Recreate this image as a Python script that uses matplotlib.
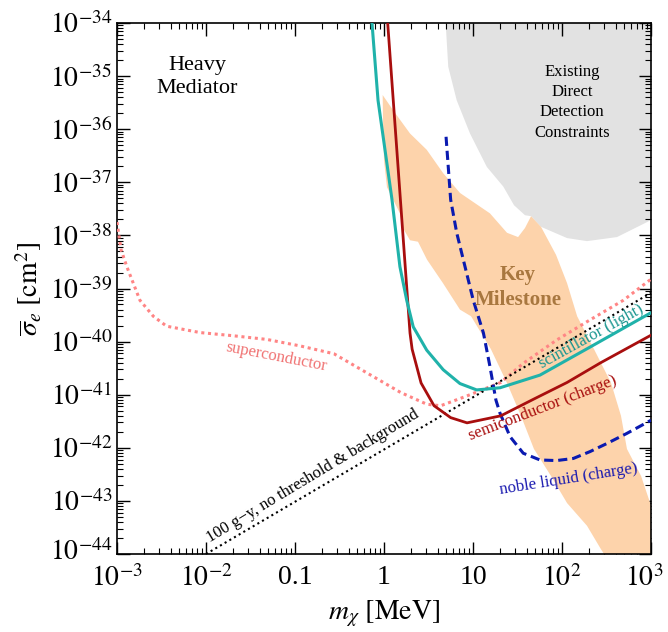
import numpy as np
import matplotlib
matplotlib.use("Agg")
import matplotlib.pyplot as plt
import matplotlib.transforms as mtransforms
from matplotlib.ticker import LogLocator, FixedLocator, FixedFormatter, NullFormatter

plt.rcParams['font.family'] = ['Liberation Serif', 'DejaVu Serif']
plt.rcParams['mathtext.fontset'] = 'stix'

# --- curves (m in MeV, sigma in cm^2) ---
scint_m = [0.733, 0.857, 1.23, 1.51, 1.80, 2.13, 3.02, 4.63, 7.14, 11.0, 20.1,
           56.6, 207, 1000]
scint_s = [1e-34, 3.5e-36, 4.7e-38, 2.57e-39, 6.0e-40, 1.9e-40, 6.9e-41,
           2.95e-41, 1.62e-41, 1.23e-41, 1.35e-41, 2.34e-41, 7.9e-41, 3.5e-40]

semi_m = [1.10, 1.96, 2.07, 2.61, 3.65, 5.61, 8.57, 20.5, 48.4, 114, 272, 1000]
semi_s = [1e-34, 1.45e-40, 7.2e-41, 1.66e-41, 6.2e-42, 3.7e-42, 2.95e-42,
          4.0e-42, 8.3e-42, 1.7e-41, 4.0e-41, 1.32e-40]

noble_m = [4.98, 5.61, 6.56, 10.07, 13.1, 15.5, 18.1, 20.1, 26.1, 36.7, 56.6,
           87.1, 134, 207, 318, 533, 1000]
noble_s = [7.2e-37, 4.7e-38, 1.12e-38, 6.0e-40, 1.45e-40, 3.4e-41, 7.9e-42,
           4.5e-42, 1.62e-42, 7.9e-43, 5.9e-43, 5.75e-43, 6.3e-43, 8.5e-43,
           1.2e-42, 1.86e-42, 3.3e-42]

super_m = [0.001, 0.00111, 0.00129, 0.00181, 0.00256, 0.00361, 0.00857, 0.0201,
           0.0481, 0.114, 0.274, 0.644, 1.54, 3.04, 4.34, 8.57, 20.5, 36.7,
           87.1, 207, 489, 1000]
super_s = [1.78e-38, 5.4e-39, 2.57e-39, 6.0e-40, 3.0e-40, 1.95e-40, 1.48e-40,
           1.29e-40, 1.1e-40, 8.3e-41, 5.9e-41, 2.57e-41, 1.1e-41, 6.6e-42,
           6.2e-42, 9.5e-42, 1.7e-41, 3.9e-41, 1.07e-40, 2.57e-40, 6.0e-40, 1.5e-39]

floor_m = [0.01, 1000]
floor_s = [1e-44, 8.3e-40]

# key milestone band (closed outline)
band_m = [0.966, 1.26, 1.96, 3.02, 4.63, 7.14, 15.5, 24.1, 32.1, 38.4, 44.9,
          58.1, 85.7, 114, 148, 229, 356, 460, 537, 773, 951, 1000, 1000,
          297, 274, 191, 114, 75.2, 48.4, 34.6, 24.1, 15.9, 9.51, 7.14, 4.6,
          3.04, 2.41, 1.96, 1.63, 1.51, 1.08, 1.0, 0.975]
band_s = [4.4e-36, 2.3e-36, 8.3e-37, 4.1e-37, 1.48e-37, 6.3e-38, 2.6e-38,
          1.12e-38, 9.3e-39, 1.38e-38, 2.3e-38, 1.45e-38, 4.3e-39, 1.26e-39,
          3.0e-40, 7.2e-41, 1.66e-41, 4.0e-42, 9.5e-43, 2.95e-43, 1.05e-43,
          8.3e-44, 1e-44, 1e-44, 1.23e-44, 3.4e-44, 9.1e-44, 2.95e-43, 9.5e-43,
          4.0e-42, 1.66e-41, 7.2e-41, 3.0e-40, 4.0e-40, 1.26e-39, 3.5e-39,
          7.6e-39, 8.1e-39, 1.38e-38, 2.6e-38, 8.1e-38, 2.6e-37, 1.48e-36]

# existing direct detection constraints
excl_m = [4.93, 4.93, 5.27, 6.56, 9.25, 14.3, 21.9, 28.9, 38.4, 44.9, 58.1,
          114, 191, 415, 902, 1000, 1000]
excl_s = [1.3e-34, 1e-34, 1.5e-35, 3.5e-36, 8.3e-37, 1.95e-37, 8.3e-38, 3.7e-38,
          2.4e-38, 2.3e-38, 1.45e-38, 8.9e-39, 7.8e-39, 9.3e-39, 1.78e-38,
          1.95e-38, 1.3e-34]

xtick_vals = [1e-3, 1e-2, 0.1, 1, 10, 100, 1000]
xtick_text = [r"$10^{-3}$", r"$10^{-2}$", "0.1", "1", "10", r"$10^{2}$", r"$10^{3}$"]
ytick_vals = [10.0 ** e for e in range(-44, -33)]
ytick_text = [r"$10^{%d}$" % e for e in range(-44, -33)]

fig = plt.figure(figsize=(6.68, 6.32), dpi=100)
ax = fig.add_axes([117 / 668, 1 - 554 / 632, 534 / 668, 531 / 632])
ax.set_xscale('log')
ax.set_yscale('log')

ax.fill(excl_m, excl_s, color='#e2e2e2', lw=0, zorder=1)
ax.fill(band_m, band_s, color='#fdd3ab', lw=0, zorder=2)

ax.plot(super_m, super_s, color='#ff8585', ls=(0, (1, 1.2)), lw=2.2, zorder=3)
ax.plot(floor_m, floor_s, color='black', ls=(0, (1, 1.6)), lw=1.5, zorder=4)
ax.plot(noble_m, noble_s, color='#0a1ab0', ls=(0, (3, 1.6)), lw=2.2, zorder=5)
ax.plot(semi_m, semi_s, color='#a80e0e', lw=2.0, zorder=6)
ax.plot(scint_m, scint_s, color='#20b2aa', lw=2.2, zorder=7)

ax.set_xlim(1e-3, 1e3)
ax.set_ylim(1e-44, 1e-34)

ax.xaxis.set_major_locator(FixedLocator(xtick_vals))
ax.xaxis.set_major_formatter(FixedFormatter(xtick_text))
ax.yaxis.set_major_locator(FixedLocator(ytick_vals))
ax.yaxis.set_major_formatter(FixedFormatter(ytick_text))
for a in (ax.xaxis, ax.yaxis):
    a.set_minor_locator(LogLocator(base=10, subs=np.arange(2, 10), numticks=100))
    a.set_minor_formatter(NullFormatter())
ax.tick_params(which='both', direction='in', top=True, right=True, labelsize=20)
ax.tick_params(which='major', length=9, width=1.0)
ax.tick_params(which='minor', length=4.5, width=0.8)
ax.tick_params(axis='x', pad=8)
for sp in ax.spines.values():
    sp.set_linewidth(1.2)

# nudge corner labels so they stay inside the figure / clear of each other
fig.canvas.draw()
last = ax.get_xticklabels()[-1]
last.set_transform(last.get_transform() +
                   mtransforms.ScaledTranslation(-5 / 72, 0, fig.dpi_scale_trans))
first_y = ax.get_yticklabels()[0]
first_y.set_transform(first_y.get_transform() +
                      mtransforms.ScaledTranslation(0, 3 / 72, fig.dpi_scale_trans))

ax.set_xlabel(r"$m_\chi\ [\mathrm{MeV}]$", fontsize=20, labelpad=5)
ax.set_ylabel(r"$\overline{\sigma}_e\ [\mathrm{cm}^2]$", fontsize=20, labelpad=4)

ax.text(0.0079, 9.5e-36, "Heavy\nMediator", fontsize=16, ha='center', va='center',
        linespacing=1.3, zorder=8)
ax.text(130, 3.2e-36, "Existing\nDirect\nDetection\nConstraints", fontsize=12,
        ha='center', va='center', linespacing=1.35, zorder=8)
ax.text(32, 1.05e-39, "Key\nMilestone", fontsize=15, fontweight='bold',
        color='#a8773f', ha='center', va='center', linespacing=1.3, zorder=8)
ax.text(0.061, 5.1e-41, "superconductor", fontsize=12, color='#f07272',
        rotation=-11, ha='center', va='center', rotation_mode='anchor', zorder=8)
ax.text(0.16, 2.9e-43, "100 g\u2212y, no threshold & background", fontsize=12,
        rotation=31, ha='center', va='center', rotation_mode='anchor', zorder=8)
ax.text(215, 1.25e-40, "scintillator (light)", fontsize=12, color='#1a9690',
        rotation=29, ha='center', va='center', rotation_mode='anchor', zorder=8)
ax.text(60, 5.6e-42, "semiconductor (charge)", fontsize=12, color='#a80e0e',
        rotation=21, ha='center', va='center', rotation_mode='anchor', zorder=8)
ax.text(120, 2.6e-43, "noble liquid (charge)", fontsize=12, color='#1a1ab0',
        rotation=9, ha='center', va='center', rotation_mode='anchor', zorder=8)

fig.savefig("out.png", dpi=100)
